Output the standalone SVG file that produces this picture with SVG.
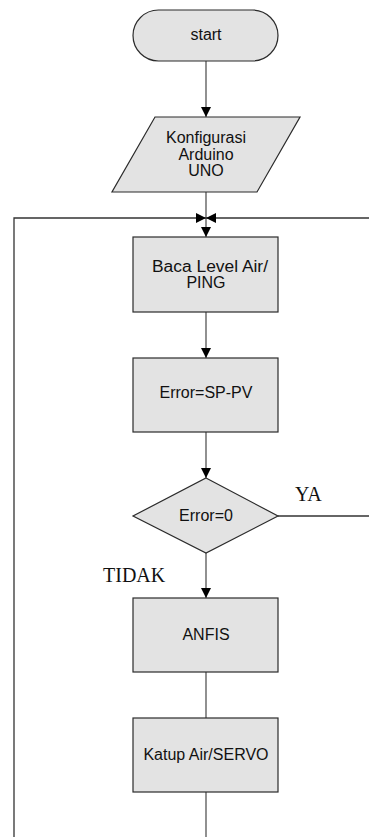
<svg xmlns="http://www.w3.org/2000/svg" width="369" height="837" viewBox="0 0 369 837">
<style>
.shape{fill:#e3e3e3;stroke:#2b2b2b;stroke-width:1.2}
.lbl{font-family:"Liberation Sans",Arial,sans-serif;font-size:16px;fill:#111;text-anchor:middle}
.serif{font-family:"Liberation Serif","Times New Roman",serif;font-size:20px;fill:#111}
.conn{fill:none;stroke:#555;stroke-width:1.3}
.loop{fill:none;stroke:#333;stroke-width:1.3}
</style>
<defs>
<marker id="arr" markerWidth="10" markerHeight="10" refX="10" refY="5" orient="auto" markerUnits="userSpaceOnUse">
<path d="M0,0 L10,5 L0,10 Z" fill="#000"/>
</marker>
</defs>
<g id="connectors">
<line class="conn" x1="206" y1="61" x2="206" y2="117" marker-end="url(#arr)"/>
<line class="conn" x1="206" y1="192" x2="206" y2="237" marker-end="url(#arr)"/>
<polyline class="loop" points="14,837 14,218 206,218" marker-end="url(#arr)"/>
<polyline class="loop" points="278,516 369,516"/>
<line class="loop" x1="369" y1="218" x2="206" y2="218" marker-end="url(#arr)"/>
<line class="conn" x1="206" y1="312" x2="206" y2="358" marker-end="url(#arr)"/>
<line class="conn" x1="206" y1="432" x2="206" y2="478" marker-end="url(#arr)"/>
<line class="conn" x1="206" y1="553" x2="206" y2="598" marker-end="url(#arr)"/>
<line class="conn" x1="206" y1="672" x2="206" y2="718"/>
<line class="conn" x1="206" y1="792" x2="206" y2="837"/>
<text class="serif" x="295" y="501">YA</text>
<text class="serif" x="103" y="582">TIDAK</text>
</g>
<g id="start">
<rect class="shape" x="133" y="10" width="145" height="51" rx="25.5" ry="25.5"/>
<text class="lbl" x="206" y="40">start</text>
</g>
<g id="konfigurasi">
<polygon class="shape" points="155,117 300,117 257,192 112,192"/>
<text class="lbl" x="206" y="143">Konfigurasi</text>
<text class="lbl" x="206" y="159.5">Arduino</text>
<text class="lbl" x="206" y="176">UNO</text>
</g>
<g id="baca">
<rect class="shape" x="133" y="237" width="145" height="75"/>
<text class="lbl" x="152" y="272" style="text-anchor:start" textLength="116" lengthAdjust="spacingAndGlyphs">Baca Level Air/</text>
<text class="lbl" x="206" y="288">PING</text>
</g>
<g id="error">
<rect class="shape" x="133" y="358" width="145" height="74"/>
<text class="lbl" x="206" y="398">Error=SP-PV</text>
</g>
<g id="decision">
<polygon class="shape" points="206,478 278,516 206,553 133,516"/>
<text class="lbl" x="206" y="521">Error=0</text>
</g>
<g id="anfis">
<rect class="shape" x="133" y="598" width="145" height="74"/>
<text class="lbl" x="206" y="640">ANFIS</text>
</g>
<g id="katup">
<rect class="shape" x="133" y="718" width="145" height="74"/>
<text class="lbl" x="206" y="760">Katup Air/SERVO</text>
</g>
</svg>
